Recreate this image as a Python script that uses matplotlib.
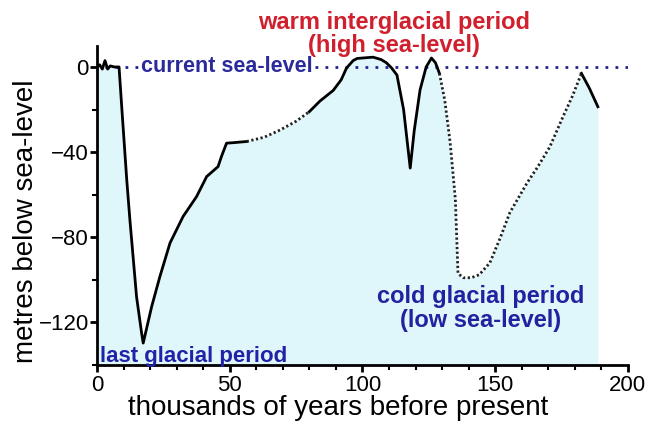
import numpy as np
import matplotlib.pyplot as plt
from matplotlib.ticker import MultipleLocator

# sea level reconstruction (thousands of years BP, metres relative to present)
age = [0, 1, 2, 3, 4, 5, 6.5, 8.3, 9.3, 11.2, 12.4, 14.9, 16.8, 17.4, 20.6, 23.7,
       27.5, 32.4, 37.5, 41.3, 45.6, 46.9, 48.8, 52, 56.4, 63, 69, 75, 80,
       84, 89, 92, 94, 96.5, 98, 104, 107, 109, 111, 113, 115.5, 118, 119.5,
       121.7, 124, 126, 127.5, 129, 131, 133, 135, 136, 138, 141, 144, 148,
       152, 155.5, 162, 166, 170.6, 175.5, 179, 182.5, 185.5, 188.7]
level = [0, 1, -1, 3, -1, 0.5, 0, 0, -18.6, -53, -72, -108, -125, -129.7, -112.5, -98.4,
         -82.7, -70.3, -60.9, -51.5, -46.8, -42, -35.8, -35.5, -35, -33, -29.6, -25.5, -21,
         -16, -11, -6, -0.5, 3, 4, 4.6, 3.5, 2, -0.5, -3.8, -20, -47.5, -30,
         -10.8, 0, 4.2, 2, -3, -15.5, -35, -62, -97, -99, -99, -97.6, -92,
         -80, -68.5, -54.5, -47, -37.5, -23.5, -14, -3, -10, -18.7]

# which stretches are drawn as a solid line (rest dotted)
solid_spans = [(0, 56.4), (80, 129), (182.5, 188.7)]
dotted_spans = [(56.4, 80), (129, 182.5)]

plt.rcParams['font.family'] = ['Liberation Sans', 'DejaVu Sans']

fig = plt.figure(figsize=(6.52, 4.21), dpi=100)
ax = fig.add_axes([0.1488, 0.133, 0.8142, 0.7585])

x = np.array(age)
y = np.array(level)

ax.fill_between(x, y, -140, color='#dff7fa', lw=0, zorder=1)

def seg(lo, hi):
    m = (x >= lo) & (x <= hi)
    return x[m], y[m]

for lo, hi in solid_spans:
    xs, ys = seg(lo, hi)
    ax.plot(xs, ys, color='black', lw=2.0, solid_joinstyle='round', zorder=3)
for lo, hi in dotted_spans:
    xs, ys = seg(lo, hi)
    ax.plot(xs, ys, color='#222222', lw=2.0, ls=(0, (0.8, 0.9)), zorder=3)

# current sea-level
ax.plot([3, 200], [0, 0], color='#23238f', lw=2.0, ls=(0, (1, 2.6)), zorder=2)
ax.text(16.5, 0, 'current sea-level', color='#2a2a9a', fontsize=15.5, fontweight='bold',
        va='center', ha='left', zorder=4,
        bbox=dict(facecolor='white', edgecolor='none', pad=0.5))

ax.text(112, 15.5, 'warm interglacial period\n(high sea-level)', color='#d0202e',
        fontsize=17, fontweight='bold', ha='center', va='center', linespacing=1.05,
        clip_on=False)
ax.text(144.6, -113.5, 'cold glacial period\n(low sea-level)', color='#2222a0',
        fontsize=17, fontweight='bold', ha='center', va='center', linespacing=1.05)
ax.text(1, -138.4, 'last glacial period', color='#2222a8', fontsize=16,
        fontweight='bold', ha='left', va='baseline')

ax.set_xlim(0, 200)
ax.set_ylim(-140, 10)
ax.set_xticks([0, 50, 100, 150, 200])
ax.set_yticks([0, -40, -80, -120])
ax.xaxis.set_minor_locator(MultipleLocator(10))
ax.yaxis.set_minor_locator(MultipleLocator(20))
ax.tick_params(which='major', length=5, width=2, labelsize=16, direction='out')
ax.tick_params(which='minor', length=3.5, width=1.5, direction='out')
ax.tick_params(axis='x', pad=2)
ax.tick_params(axis='y', pad=1)
for s in ['top', 'right']:
    ax.spines[s].set_visible(False)
for s in ['left', 'bottom']:
    ax.spines[s].set_linewidth(2)

ax.set_xlabel('thousands of years before present', fontsize=20, va='baseline')
ax.xaxis.set_label_coords(0.455, -0.1566)
ax.set_ylabel('metres below sea-level', fontsize=20, va='baseline')
ax.yaxis.set_label_coords(-0.1205, 0.451)

plt.savefig('out.png', dpi=100)
